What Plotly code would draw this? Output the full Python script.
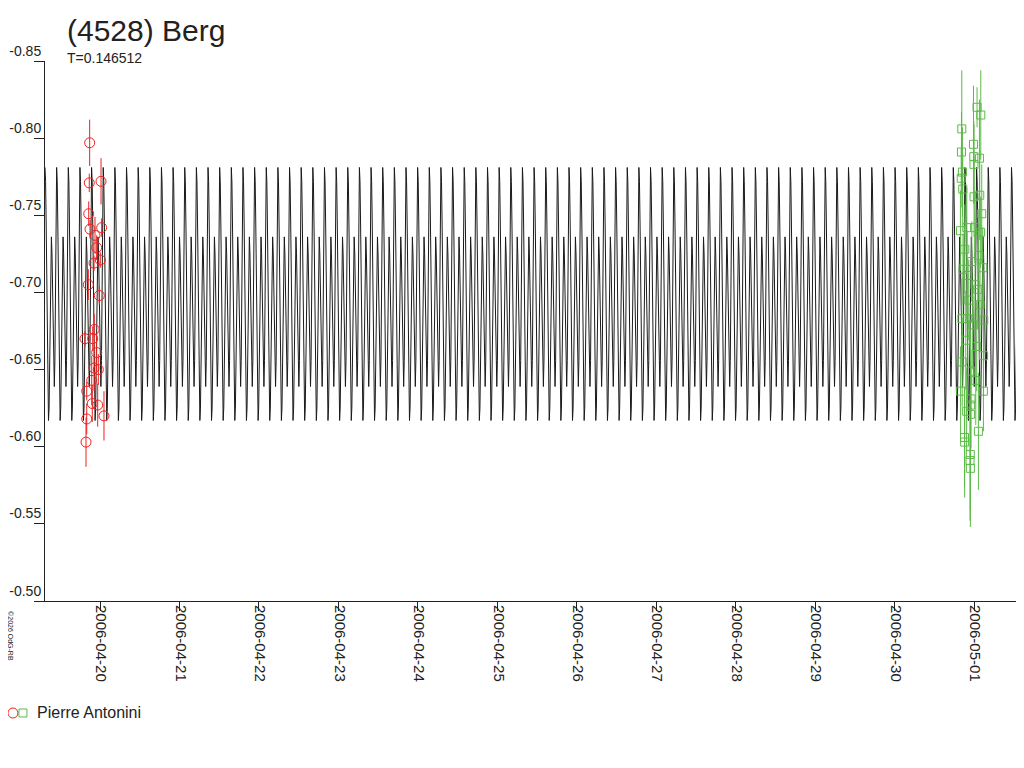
"""Lightcurve plot of (4528) Berg, rebuilt with plotly."""
import numpy as np
import pandas as pd
import plotly.graph_objects as go

# rotation period (days) and one cycle of the model curve
PERIOD = 0.146512
curve_shape = [-0.781, -0.772, -0.745, -0.705, -0.664, -0.632, -0.617, -0.625,
               -0.655, -0.695, -0.726, -0.736, -0.725, -0.697, -0.665, -0.644,
               -0.639, -0.656, -0.694, -0.742]

# session 1 (red), days from 2006-04-20 00:00 UT
red_t = [-0.130, -0.135, 0.013, -0.142, -0.126, 0.021, -0.063, -0.042, 0.004,
         -0.075, -0.147, -0.009, -0.073, -0.189, -0.092, -0.042, -0.075, -0.021,
         -0.104, -0.167, -0.097, -0.029, 0.050, -0.167, -0.176]
red_mag = [-0.797, -0.771, -0.772, -0.751, -0.741, -0.742, -0.737, -0.729, -0.721,
           -0.719, -0.705, -0.698, -0.676, -0.670, -0.670, -0.661, -0.651, -0.650,
           -0.643, -0.636, -0.628, -0.627, -0.620, -0.618, -0.603]
red_err = [0.015, 0.006, 0.015, 0.008, 0.006, 0.006, 0.012, 0.008, 0.005,
           0.005, 0.010, 0.006, 0.010, 0.005, 0.008, 0.012, 0.015, 0.010,
           0.016, 0.006, 0.012, 0.014, 0.016, 0.010, 0.016]

# session 2 (green)
green_t = [10.843, 10.839, 10.990, 11.035, 11.082, 10.994, 11.065, 10.996, 10.851,
           10.836, 10.855, 10.997, 11.069, 11.094, 10.826, 10.906, 11.006, 11.080,
           10.881, 10.969, 11.057, 11.107, 10.910, 11.010, 10.931, 11.072, 10.845,
           10.981, 11.119, 10.893, 11.031, 10.848, 10.956, 11.117, 10.828, 11.115,
           10.959, 10.954, 10.952, 11.052, 10.877, 10.879, 10.950, 10.947, 10.951,
           10.904, 11.019, 10.858, 11.044, 10.918]
green_mag = [-0.806, -0.791, -0.796, -0.820, -0.815, -0.788, -0.787, -0.783, -0.778,
             -0.774, -0.767, -0.762, -0.763, -0.751, -0.740, -0.742, -0.742, -0.739,
             -0.728, -0.720, -0.724, -0.716, -0.711, -0.705, -0.695, -0.692, -0.683,
             -0.679, -0.682, -0.669, -0.665, -0.655, -0.649, -0.659, -0.636, -0.636,
             -0.631, -0.627, -0.621, -0.610, -0.606, -0.603, -0.595, -0.591, -0.586,
             -0.623, -0.643, -0.715, -0.702, -0.683]
green_err = [0.038, 0.026, 0.038, 0.013, 0.029, 0.023, 0.038, 0.026, 0.029,
             0.019, 0.023, 0.026, 0.029, 0.032, 0.026, 0.026, 0.023, 0.023,
             0.029, 0.026, 0.029, 0.026, 0.029, 0.032, 0.026, 0.029, 0.026,
             0.029, 0.026, 0.032, 0.029, 0.029, 0.026, 0.026, 0.029, 0.026,
             0.032, 0.029, 0.032, 0.038, 0.032, 0.036, 0.036, 0.039, 0.038,
             0.026, 0.029, 0.023, 0.026, 0.029]

y_ticks = [-0.85, -0.80, -0.75, -0.70, -0.65, -0.60, -0.55, -0.50]

BASE = pd.Timestamp("2006-04-20")
X_START, X_END = -0.692, 11.525   # days, plot range


def to_dates(days):
    return BASE + pd.to_timedelta(np.asarray(days), unit="D")


# repeat the cycle over the plotted span
n_cyc = int(np.ceil((X_END - X_START) / PERIOD)) + 1
step = PERIOD / len(curve_shape)
curve_t = X_START + np.arange(n_cyc * len(curve_shape)) * step
curve_m = np.tile(curve_shape, n_cyc)

fig = go.Figure()
fig.add_trace(go.Scatter(
    x=to_dates(curve_t), y=curve_m, mode="lines",
    line=dict(color="#1a1a1a", width=1), hoverinfo="skip"))
fig.add_trace(go.Scatter(
    x=to_dates(red_t), y=red_mag, mode="markers",
    marker=dict(symbol="circle-open", size=10, color="#f02020", line=dict(width=1)),
    error_y=dict(type="data", array=red_err, color="#f02020", thickness=1, width=0)))
fig.add_trace(go.Scatter(
    x=to_dates(green_t), y=green_mag, mode="markers",
    marker=dict(symbol="square-open", size=8, color="#5cba48", line=dict(width=1)),
    error_y=dict(type="data", array=green_err, color="#5cba48", thickness=1, width=0)))

# page has an 8px body margin, so the figure is 16px smaller than the window
font = "Liberation Sans, Arial, sans-serif"
fig.update_layout(
    width=1008, height=752,
    margin=dict(l=37, r=0, t=53, b=159),
    paper_bgcolor="white", plot_bgcolor="white",
    showlegend=False,
    font=dict(family=font, color="#222222"),
    xaxis=dict(
        type="date", range=[to_dates([X_START])[0], to_dates([X_END])[0]],
        tick0="2006-04-20", dtick=86400000, tickformat="%Y-%m-%d",
        tickangle=90, ticks="outside", ticklen=9, tickcolor="#222222",
        ticklabelposition="outside right", automargin=False,
        tickfont=dict(size=15), showgrid=False, zeroline=False,
        showline=True, linecolor="#222222", linewidth=1),
    yaxis=dict(
        range=[-0.50, -0.85], tickvals=y_ticks,
        ticktext=[f"{v:.2f}" for v in y_ticks],
        ticks="outside", ticklen=10, tickcolor="#222222",
        ticklabelposition="outside top", automargin=False,
        tickfont=dict(size=14), showgrid=False, zeroline=False,
        showline=True, linecolor="#222222", linewidth=1),
)

# titles
fig.add_annotation(text="(4528) Berg", xref="paper", yref="paper", x=0.0206, y=1.057,
                   xanchor="left", yanchor="middle", showarrow=False,
                   font=dict(size=30, color="#222222"))
fig.add_annotation(text="T=0.146512", xref="paper", yref="paper", x=0.0206, y=1.0056,
                   xanchor="left", yanchor="middle", showarrow=False,
                   font=dict(size=14, color="#222222"))
fig.add_annotation(text="©2026 OdG-RB", xref="paper", yref="paper", x=-0.035, y=-0.015,
                   xanchor="center", yanchor="top", textangle=90, showarrow=False,
                   font=dict(size=7, color="#222222"))

# legend drawn by hand: red circle + green square + observer
leg_y = -0.2074
fig.add_shape(type="circle", xref="paper", yref="paper", xsizemode="pixel",
              ysizemode="pixel", xanchor=-0.033, yanchor=leg_y,
              x0=-5, x1=5, y0=-5, y1=5, line=dict(color="#f02020", width=1))
fig.add_shape(type="rect", xref="paper", yref="paper", xsizemode="pixel",
              ysizemode="pixel", xanchor=-0.0227, yanchor=leg_y,
              x0=-4, x1=4, y0=-4, y1=4, line=dict(color="#5cba48", width=1))
fig.add_annotation(text="Pierre Antonini", xref="paper", yref="paper", x=-0.0103, y=leg_y,
                   xanchor="left", yanchor="middle", showarrow=False,
                   font=dict(size=16, color="#222222"))

fig.write_html("out.html")
